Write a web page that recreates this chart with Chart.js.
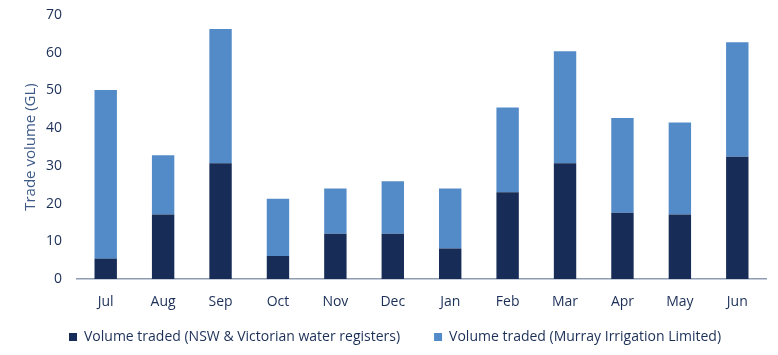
<!DOCTYPE html>
<html>
<head>
<meta charset="utf-8">
<script src="https://cdn.jsdelivr.net/npm/chart.js@4"></script>
<style>
  html, body { margin: 0; padding: 0; background: #ffffff; }
  #wrap { width: 778px; height: 355px; }
</style>
</head>
<body>
<div id="wrap"><canvas id="c" width="778" height="355"></canvas></div>
<script>
const categories = ['Jul', 'Aug', 'Sep', 'Oct', 'Nov', 'Dec', 'Jan', 'Feb', 'Mar', 'Apr', 'May', 'Jun'];
const nswVictorianVolume = [5.4, 17.1, 30.7, 6.1, 12.0, 12.0, 8.1, 23.0, 30.7, 17.6, 17.1, 32.4];
const murrayIrrigationVolume = [44.7, 15.7, 35.6, 15.2, 12.0, 13.9, 15.9, 22.5, 29.7, 25.1, 24.4, 30.4];
const seriesNames = ['Volume traded (NSW & Victorian water registers)', 'Volume traded (Murray Irrigation Limited)'];
const yAxisTitle = 'Trade volume (GL)';
const yMin = 0, yMax = 70, yStep = 10;

const FONT = "'Open Sans', 'Noto Sans', sans-serif";
const LEGEND_PAD = 34;

const legendPlacement = {
  id: 'legendPlacement',
  beforeLayout(chart) {
    const lg = chart.legend;
    if (lg && !lg._patched) {
      const origFit = lg.fit.bind(lg);
      lg.fit = function () { origFit(); this.height = 44; };
      lg._patched = true;
    }
  },
  afterLayout(chart) {
    const lg = chart.legend;
    if (lg) {
      lg.left = 69 - LEGEND_PAD;
      lg.top = 330 - LEGEND_PAD;
    }
  }
};

new Chart(document.getElementById('c'), {
  type: 'bar',
  data: {
    labels: categories,
    datasets: [
      { label: seriesNames[0], data: nswVictorianVolume, backgroundColor: '#172d57', borderWidth: 0 },
      { label: seriesNames[1], data: murrayIrrigationVolume, backgroundColor: '#538bc8', borderWidth: 0 }
    ]
  },
  options: {
    responsive: false,
    animation: false,
    layout: { padding: { top: 15, right: 12, left: 0, bottom: 0 } },
    datasets: { bar: { categoryPercentage: 1.0, barPercentage: 0.39 } },
    plugins: {
      tooltip: { enabled: false },
      legend: {
        position: 'bottom',
        align: 'start',
        labels: {
          boxWidth: 8,
          boxHeight: 8,
          padding: LEGEND_PAD,
          color: '#1b2f57',
          font: { family: FONT, size: 14 }
        }
      }
    },
    scales: {
      x: {
        stacked: true,
        grid: { display: false, drawTicks: false },
        border: { display: true, color: '#8d9cb3', width: 1.5 },
        ticks: { color: '#1b2f57', font: { family: FONT, size: 14 }, padding: 15, maxRotation: 0 },
        afterFit(scale) { scale.height = 32; }
      },
      y: {
        stacked: true,
        min: yMin,
        max: yMax,
        grid: { display: false, drawTicks: false },
        border: { display: false },
        ticks: { stepSize: yStep, color: '#1b2f57', font: { family: FONT, size: 14, lineHeight: 0.01 }, padding: 15 },
        title: {
          display: true,
          text: yAxisTitle,
          color: '#3d5a87',
          font: { family: FONT, size: 15 },
          padding: { top: 22, bottom: 0 }
        },
        afterFit(scale) { scale.width = 77; }
      }
    }
  },
  plugins: [legendPlacement]
});
</script>
</body>
</html>
